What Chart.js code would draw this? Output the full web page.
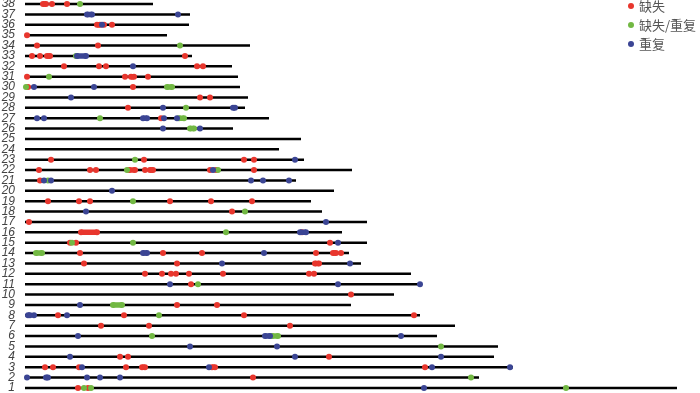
<!DOCTYPE html>
<html>
<head>
<meta charset="utf-8">
<script src="https://cdn.jsdelivr.net/npm/chart.js@4/dist/chart.umd.min.js"></script>
<style>
    body { margin: 0; background: #fff; }
    #wrap { position: relative; width: 700px; height: 393px; }
    .legend { position: absolute; left: 628px; font-family: "Noto Sans CJK SC", sans-serif; font-size: 13px; color: #555; }
    .legend div { position: relative; height: 19px; line-height: 12px; padding-left: 11px; white-space: nowrap; }
    .legend span { position: absolute; left: 0; top: 3px; width: 6px; height: 6px; border-radius: 50%; }
</style>
</head>
<body>
<div id="wrap">
    <canvas id="chart1"></canvas>
    <div class="legend" style="top:0px">
        <div><span style="background:#e8362d"></span>缺失</div>
        <div><span style="background:#72b843"></span>缺失/重复</div>
        <div><span style="background:#3b4594"></span>重复</div>
    </div>
</div>
<script>
// chromosome lengths, chromosome 1..38 (relative units)
const chromLength = [652, 454, 488, 469, 473, 412, 430, 395, 326, 369,
    397, 386, 336, 324, 342, 317, 342, 297, 286, 309,
    271, 327, 279, 254, 276, 208, 244, 220, 223, 215,
    213, 207, 167, 225, 142, 164, 165, 128];

// [chromosome, start, end]
const deletion = [
    [38, 18, 21], [38, 27, 27], [38, 42, 42],
    [36, 72, 75], [36, 79, 79], [36, 87, 87],
    [35, 2, 2],
    [34, 12, 12], [34, 73, 73],
    [33, 7, 7], [33, 15, 15], [33, 22, 25], [33, 160, 160],
    [32, 39, 39], [32, 74, 74], [32, 81, 81], [32, 172, 172], [32, 178, 178],
    [31, 2, 2], [31, 100, 100], [31, 106, 109], [31, 123, 123],
    [30, 3, 3], [30, 108, 108],
    [29, 175, 175], [29, 185, 185],
    [28, 103, 103],
    [27, 136, 136],
    [23, 26, 26], [23, 119, 119], [23, 219, 219], [23, 229, 229],
    [22, 14, 14], [22, 65, 65], [22, 71, 71], [22, 104, 110], [22, 120, 120], [22, 125, 128],
    [22, 185, 185], [22, 191, 191], [22, 229, 229],
    [21, 15, 15],
    [19, 23, 23], [19, 54, 54], [19, 65, 65], [19, 145, 145], [19, 186, 186], [19, 227, 227],
    [18, 207, 207],
    [17, 4, 4],
    [16, 56, 72], [16, 277, 277],
    [15, 45, 45], [15, 51, 51], [15, 305, 305],
    [14, 55, 55], [14, 138, 138], [14, 177, 177], [14, 291, 291], [14, 308, 311], [14, 316, 316],
    [13, 59, 59], [13, 152, 152], [13, 290, 294],
    [12, 120, 120], [12, 137, 137], [12, 146, 146], [12, 151, 151], [12, 164, 164], [12, 198, 198],
    [12, 284, 284], [12, 289, 289],
    [11, 166, 166],
    [10, 326, 326],
    [9, 152, 152], [9, 192, 192],
    [8, 33, 33], [8, 99, 99], [8, 219, 219], [8, 389, 389],
    [7, 76, 76], [7, 124, 124], [7, 265, 265],
    [4, 95, 95], [4, 103, 103], [4, 304, 304],
    [3, 20, 20], [3, 28, 28], [3, 54, 54], [3, 101, 101], [3, 117, 120], [3, 187, 190], [3, 400, 400],
    [2, 228, 228],
    [1, 53, 53], [1, 63, 63]
];
const delDup = [
    [38, 55, 55], [34, 155, 155], [33, 51, 51], [31, 24, 24],
    [30, 1, 1], [30, 142, 147], [28, 161, 161], [27, 75, 75], [27, 154, 159],
    [26, 165, 169], [23, 110, 110], [22, 102, 102], [22, 193, 193], [21, 23, 23],
    [19, 108, 108], [18, 220, 220], [16, 201, 201], [15, 47, 47], [15, 108, 108],
    [14, 11, 17], [11, 173, 173], [9, 88, 97], [8, 134, 134], [6, 127, 127], [6, 247, 253],
    [5, 416, 416], [2, 446, 446], [1, 59, 59], [1, 66, 66], [1, 541, 541]
];
const duplication = [
    [37, 62, 67], [37, 153, 153], [36, 77, 77], [33, 52, 61], [32, 108, 108],
    [30, 9, 9], [30, 69, 69], [29, 46, 46], [28, 138, 138], [28, 208, 210],
    [27, 12, 12], [27, 19, 19], [27, 118, 122], [27, 139, 139], [27, 152, 152],
    [26, 138, 138], [26, 175, 175], [23, 270, 270], [22, 188, 188],
    [21, 19, 19], [21, 26, 26], [21, 226, 226], [21, 238, 238], [21, 264, 264],
    [20, 87, 87], [18, 61, 61], [17, 301, 301], [16, 275, 281], [15, 313, 313],
    [14, 118, 122], [14, 239, 239], [13, 197, 197], [13, 325, 325],
    [11, 145, 145], [11, 313, 313], [11, 395, 395], [9, 55, 55],
    [8, 3, 5], [8, 9, 9], [8, 42, 42], [6, 53, 53], [6, 240, 245], [6, 376, 376],
    [5, 165, 165], [5, 252, 252], [4, 45, 45], [4, 270, 270], [4, 416, 416],
    [3, 57, 57], [3, 184, 184], [3, 407, 407], [3, 485, 485],
    [2, 2, 2], [2, 21, 23], [2, 62, 62], [2, 75, 75], [2, 95, 95], [1, 399, 399]
];

function chromPoints() {
    var pts = [];
    for (let i = 0; i < chromLength.length; i++) {
        pts.push({x: 0, y: i + 1}, {x: chromLength[i], y: i + 1}, {x: chromLength[i], y: null});
    }
    return pts;
}
function markPoints(list) {
    var pts = [];
    list.forEach(m => {
        pts.push({x: m[1], y: m[0]});
        if (m[2] != m[1]) pts.push({x: m[2], y: m[0]});
        pts.push({x: m[2], y: null});
    });
    return pts;
}
function markSet(label, list, color, order) {
    return {
        label: label,
        data: markPoints(list),
        showLine: true,
        spanGaps: false,
        borderColor: color,
        backgroundColor: color,
        borderWidth: 5.5,
        borderCapStyle: 'butt',
        pointRadius: 3,
        pointBorderWidth: 0,
        pointHoverRadius: 3,
        clip: false,
        order: order
    };
}

const config = {
    type: 'scatter',
    data: {
        datasets: [
            {
                label: 'chrom',
                data: chromPoints(),
                showLine: true,
                spanGaps: false,
                borderColor: '#000',
                borderWidth: 2.5,
                pointRadius: 0,
                pointHoverRadius: 0,
                clip: false,
                order: 10
            },
            markSet('缺失', deletion, '#e8362d', 3),
            markSet('缺失/重复', delDup, '#72b843', 2),
            markSet('重复', duplication, '#3b4594', 1)
        ]
    },
    options: {
        responsive: true,
        maintainAspectRatio: false,
        animation: false,
        layout: { padding: { left: 0, right: 10, top: 4, bottom: 5 } },
        plugins: { legend: { display: false }, tooltip: { enabled: false } },
        scales: {
            x: { type: 'linear', display: false, min: 0, max: 665 },
            y: {
                type: 'linear',
                min: 1,
                max: 38,
                grid: { display: false, drawTicks: false },
                border: { display: false },
                ticks: {
                    stepSize: 1,
                    autoSkip: false,
                    padding: 10,
                    color: '#444',
                    font: { family: 'Liberation Sans', style: 'italic', size: 12 }
                },
                afterFit: function (scale) {
                    scale.width = 25;
                    scale.paddingTop = 0;
                    scale.paddingBottom = 0;
                }
            }
        }
    }
};

const chart1 = new Chart(document.getElementById('chart1'), config);
</script>
</body>
</html>
